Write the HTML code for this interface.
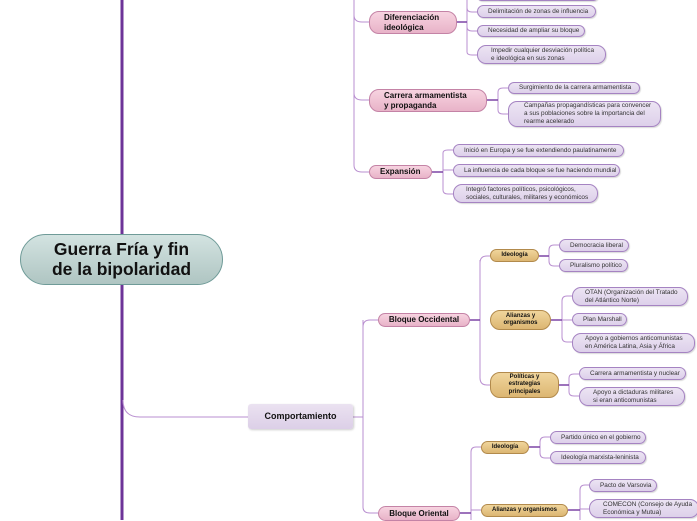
<!DOCTYPE html>
<html><head><meta charset="utf-8"><style>
html,body{margin:0;padding:0;background:#fff;}
body{width:697px;height:520px;position:relative;overflow:hidden;font-family:"Liberation Sans","DejaVu Sans",sans-serif;}
.n{position:absolute;box-sizing:border-box;display:flex;align-items:center;color:#222;line-height:1.2;white-space:nowrap;}
.leaf{background:linear-gradient(#ece4f3,#ddd0ea);border:1px solid #a583c2;border-radius:9px;font-size:6.4px;padding:0 10px;box-shadow:1px 1px 1px rgba(0,0,0,.15);color:#333;}
.pink{background:linear-gradient(#f7d3e0,#e8b3c8);border:1px solid #c483a6;border-radius:10px;font-size:8px;font-weight:bold;padding:0 14px;color:#111;}
.gold{background:linear-gradient(#f0d59c,#dcb672);border:1px solid #b28a4c;border-radius:10px;font-size:6px;font-weight:bold;justify-content:center;text-align:center;color:#111;}
svg{position:absolute;left:0;top:0;}
</style></head><body>
<svg width="697" height="520" fill="none">
<path d="M122 0V520" stroke="#6d3498" stroke-width="3"/>
<path d="M123 400Q123 417 140 417H248" stroke="#b98fd0" stroke-width="1"/>
<g stroke="#b98fd0" stroke-width="1">
<path d="M354 0V165Q354 172 362 172H369"/>
<path d="M354 15Q354 22 362 22H369"/>
<path d="M354 93Q354 100 362 100H369"/>
<path d="M467 0V52Q467 55 472 55H477"/>
<path d="M467 8Q467 12 472 12H477"/>
<path d="M467 27Q467 31 472 31H477"/>
<path d="M498 92Q498 88 503 88H508 M498 92V110Q498 114 503 114H508"/>
<path d="M443 153Q443 150 448 150H453 M443 153V190Q443 194 448 194H453 M443 170H453"/>
<path d="M353 417H363 M363 327Q363 320 370 320H378 M363 320V507Q363 513 370 513H378"/>
<path d="M480 263Q480 256 487 256H490 M480 260V378Q480 385 487 385H490"/>
<path d="M549 250Q549 245 554 245H559 M549 250V261Q549 266 554 266H559"/>
<path d="M562 301Q562 296 567 296H572 M562 301V337Q562 342 567 342H572 M562 320H572"/>
<path d="M569 378Q569 374 574 374H579 M569 378V392Q569 396 574 396H579"/>
<path d="M471 452Q471 447 476 447H481 M471 452V520 M471 510H481"/>
<path d="M540 442Q540 437 545 437H550 M540 442V453Q540 458 545 458H550"/>
<path d="M580 490Q580 485 585 485H589 M580 490V520 M580 509H589"/>
</g>
<g stroke="#7d45a6" stroke-width="1.5">
<path d="M457 22H467 M487 100H498 M432 172H443 M469 320H480 M539 256H549 M551 320H562 M559 385H569 M460 513H471 M529 447H540 M568 510H580"/>
</g>
</svg>

<div class="n" style="left:20px;top:234px;width:203px;height:51px;border-radius:26px;border:1px solid #6f9b98;background:linear-gradient(#d3e3e1,#afc5c2);justify-content:center;text-align:center;font-size:17.5px;font-weight:bold;color:#111;line-height:1.1;">Guerra Fría y fin<br>de la bipolaridad</div>
<div class="n" style="left:248px;top:404px;width:105px;height:25px;background:linear-gradient(#ebe2f1,#dccfe7);border-radius:3px;justify-content:center;font-size:9px;font-weight:bold;color:#111;box-shadow:1px 1px 2px rgba(0,0,0,.2);">Comportamiento</div>

<div class="n leaf" style="left:477px;top:-8px;width:121px;height:9px;"></div>
<div class="n pink" style="left:369px;top:11px;width:88px;height:23px;">Diferenciación<br>ideológica</div>
<div class="n leaf" style="left:477px;top:5px;width:119px;height:13px;">Delimitación de zonas de influencia</div>
<div class="n leaf" style="left:477px;top:25px;width:108px;height:12px;">Necesidad de ampliar su bloque</div>
<div class="n leaf" style="left:477px;top:45px;width:129px;height:19px;padding-left:13px;">Impedir cualquier desviación política<br>e ideológica en sus zonas</div>

<div class="n pink" style="left:369px;top:89px;width:118px;height:23px;">Carrera armamentista<br>y propaganda</div>
<div class="n leaf" style="left:508px;top:82px;width:132px;height:12px;">Surgimiento de la carrera armamentista</div>
<div class="n leaf" style="left:508px;top:101px;width:153px;height:26px;padding-left:15px;">Campañas propagandísticas para convencer<br>a sus poblaciones sobre la importancia del<br>rearme acelerado</div>

<div class="n pink" style="left:369px;top:165px;width:63px;height:14px;padding-left:10px;">Expansión</div>
<div class="n leaf" style="left:453px;top:144px;width:171px;height:13px;">Inició en Europa y se fue extendiendo paulatinamente</div>
<div class="n leaf" style="left:453px;top:164px;width:167px;height:13px;">La influencia de cada bloque se fue haciendo mundial</div>
<div class="n leaf" style="left:453px;top:184px;width:145px;height:19px;padding-left:12px;">Integró factores políticos, psicológicos,<br>sociales, culturales, militares y económicos</div>

<div class="n pink" style="left:378px;top:313px;width:92px;height:14px;justify-content:center;padding:0;">Bloque Occidental</div>
<div class="n gold" style="left:490px;top:249px;width:49px;height:13px;">Ideología</div>
<div class="n gold" style="left:490px;top:310px;width:61px;height:20px;">Alianzas y<br>organismos</div>
<div class="n gold" style="left:490px;top:372px;width:69px;height:26px;">Políticas y<br>estrategias<br>principales</div>
<div class="n leaf" style="left:559px;top:239px;width:70px;height:13px;">Democracia liberal</div>
<div class="n leaf" style="left:559px;top:259px;width:69px;height:13px;">Pluralismo político</div>
<div class="n leaf" style="left:572px;top:287px;width:116px;height:19px;padding-left:12px;">OTAN (Organización del Tratado<br>del Atlántico Norte)</div>
<div class="n leaf" style="left:572px;top:313px;width:55px;height:13px;">Plan Marshall</div>
<div class="n leaf" style="left:572px;top:333px;width:123px;height:20px;padding-left:12px;">Apoyo a gobiernos anticomunistas<br>en América Latina, Asia y África</div>
<div class="n leaf" style="left:579px;top:367px;width:107px;height:13px;">Carrera armamentista y nuclear</div>
<div class="n leaf" style="left:579px;top:387px;width:106px;height:19px;padding-left:13px;">Apoyo a dictaduras militares<br>si eran anticomunistas</div>

<div class="n pink" style="left:378px;top:506px;width:82px;height:15px;justify-content:center;padding:0;">Bloque Oriental</div>
<div class="n gold" style="left:481px;top:441px;width:48px;height:13px;">Ideología</div>
<div class="n gold" style="left:481px;top:504px;width:87px;height:13px;">Alianzas y organismos</div>
<div class="n leaf" style="left:550px;top:431px;width:96px;height:13px;">Partido único en el gobierno</div>
<div class="n leaf" style="left:550px;top:451px;width:96px;height:13px;">Ideología marxista-leninista</div>
<div class="n leaf" style="left:589px;top:479px;width:68px;height:13px;padding-left:10px;">Pacto de Varsovia</div>
<div class="n leaf" style="left:589px;top:499px;width:110px;height:19px;padding-left:13px;">COMECON (Consejo de Ayuda<br>Económica y Mutua)</div>
</body></html>
